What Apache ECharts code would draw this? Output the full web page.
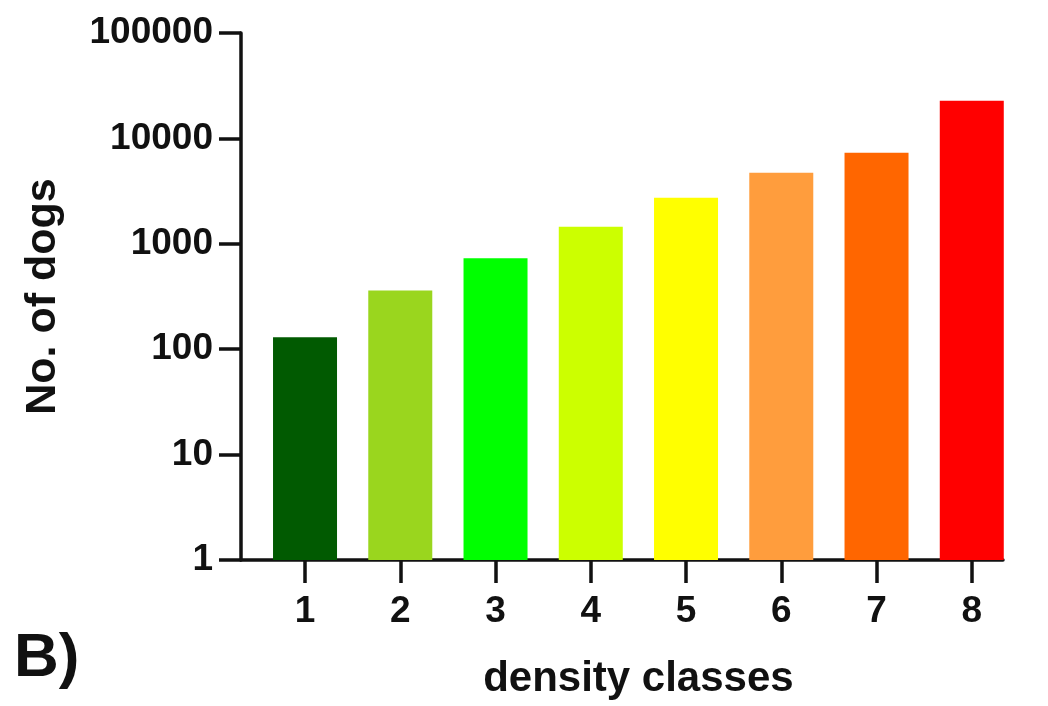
<!DOCTYPE html>
<html>
<head>
<meta charset="utf-8">
<style>
  html, body { margin: 0; padding: 0; background: #ffffff; }
  #chart { width: 1048px; height: 706px; }
</style>
<script src="https://cdn.jsdelivr.net/npm/echarts@6/dist/echarts.min.js"></script>
</head>
<body>
<div id="chart"></div>
<script>
// Number of dogs per density class (log scale)
const classes = ['1', '2', '3', '4', '5', '6', '7', '8'];
const dogCounts = [130, 360, 730, 1450, 2740, 4730, 7320, 22800];
const classColors = ['#015a01', '#9ad61e', '#00ff00', '#ccff00', '#ffff00', '#ff9d3d', '#ff6600', '#ff0000'];

const FONT = '"Liberation Sans", Arial, Helvetica, sans-serif';
const INK = '#111111';
const LINE_W = 3.5;

const chart = echarts.init(document.getElementById('chart'), null, { renderer: 'canvas' });

chart.setOption({
  backgroundColor: '#ffffff',
  animation: false,
  grid: [
    // bars grid
    { left: 257.4, width: 762, top: 33, bottom: 146 },
    // baseline grid (x axis line running from the y axis to the last bar)
    { left: 241, right: 45, top: 33, bottom: 146 }
  ],
  xAxis: [
    {
      type: 'category',
      gridIndex: 0,
      data: classes,
      boundaryGap: true,
      axisLine: { show: false },
      axisTick: { show: true, alignWithLabel: true, length: 23, lineStyle: { color: INK, width: LINE_W } },
      axisLabel: { color: INK, fontFamily: FONT, fontWeight: 'bold', fontSize: 37, margin: 33 },
      splitLine: { show: false },
      name: 'density classes',
      nameLocation: 'middle',
      nameGap: 98,
      nameTextStyle: { color: INK, fontFamily: FONT, fontWeight: 'bold', fontSize: 42 }
    },
    {
      type: 'value',
      gridIndex: 1,
      min: 0,
      max: 1,
      axisLine: { show: true, lineStyle: { color: INK, width: LINE_W } },
      axisTick: { show: false },
      axisLabel: { show: false },
      splitLine: { show: false }
    }
  ],
  yAxis: [
    {
      type: 'log',
      gridIndex: 0,
      logBase: 10,
      min: 1,
      max: 100000,
      offset: 16.4,
      axisLine: { show: true, lineStyle: { color: INK, width: LINE_W } },
      axisTick: { show: true, length: 22, lineStyle: { color: INK, width: LINE_W } },
      axisLabel: {
        color: INK, fontFamily: FONT, fontWeight: 'bold', fontSize: 37, margin: 28,
        formatter: v => String(Math.round(v))
      },
      splitLine: { show: false },
      minorTick: { show: false },
      name: 'No. of dogs',
      nameLocation: 'middle',
      nameRotate: 90,
      nameGap: 176,
      nameTextStyle: { color: INK, fontFamily: FONT, fontWeight: 'bold', fontSize: 43 }
    },
    {
      type: 'value',
      gridIndex: 1,
      show: false,
      min: 0,
      max: 1
    }
  ],
  graphic: [
    {
      type: 'text',
      left: 14,
      top: 628,
      style: { text: 'B)', fill: INK, font: 'bold 62px ' + FONT }
    }
  ],
  series: [
    {
      type: 'bar',
      xAxisIndex: 0,
      yAxisIndex: 0,
      barWidth: 64,
      data: dogCounts.map((v, i) => ({ value: v, itemStyle: { color: classColors[i] } }))
    }
  ]
});
</script>
</body>
</html>
